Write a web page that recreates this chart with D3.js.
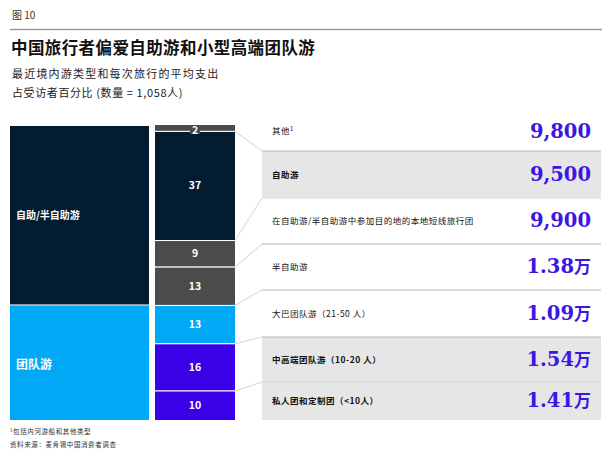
<!DOCTYPE html>
<html>
<head>
<meta charset="utf-8">
<script src="https://cdn.jsdelivr.net/npm/d3@7"></script>
<style>
  body { margin: 0; background: #fff; }
  text { font-family: "Noto Sans CJK SC", "Noto Sans", sans-serif; }
</style>
</head>
<body>
<svg id="chart"></svg>
<script>
// Данные: сегменты правого столбца (сверху вниз)
let segLabels = ["其他", "自助游", "在自助游/半自助游中参加目的地的本地短线旅行团", "半自助游",
                 "大巴团队游（21-50 人）", "中高端团队游（10-20 人）", "私人团和定制团（<10人）"];
let segShares = [2, 37, 9, 13, 13, 16, 10];
let segSpend = [9800, 9500, 9900, 13800, 10900, 15400, 14100];
let segBold = [false, true, false, false, false, true, true];

// Левый столбец
let groupLabels = ["自助/半自助游", "团队游"];
let groupShares = [61, 39];

let width = 616, height = 454;
let svg = d3.select("#chart").attr("width", width).attr("height", height);

let segColors = ["#4b4b4b", "#031c30", "#4b4b4b", "#4b4b4b", "#00a8f5", "#3a00e6", "#3a00e6"];
let groupColors = ["#031c30", "#00a8f5"];
let valueColor = "#3c16e4";

// шапка
svg.append("text").attr("x", 12).attr("y", 19).attr("font-size", 10).attr("fill", "#333").text("图 10");
svg.append("line").attr("x1", 10).attr("x2", 602).attr("y1", 29.5).attr("y2", 29.5)
    .attr("stroke", "#9a9a9a").attr("stroke-width", 1.5);
svg.append("text").attr("x", 11).attr("y", 54).attr("font-size", 16.5).attr("font-weight", "bold")
    .attr("letter-spacing", 0.4).attr("fill", "#111").text("中国旅行者偏爱自助游和小型高端团队游");
svg.append("text").attr("x", 12).attr("y", 78).attr("font-size", 11).attr("letter-spacing", 1.2)
    .attr("fill", "#222").text("最近境内游类型和每次旅行的平均支出");
svg.append("text").attr("x", 12).attr("y", 97).attr("font-size", 11).attr("letter-spacing", 0.6)
    .attr("fill", "#222").text("占受访者百分比 (数量 = 1,058人)");

// шкала по Y
let y = d3.scaleLinear().domain([0, 100]).range([125, 420]);

// левый столбец
let gCum = d3.cumsum(groupShares);
svg.selectAll(".grp").data(groupShares).enter().append("rect")
    .attr("x", 10).attr("width", 139)
    .attr("y", (d, i) => y(gCum[i] - d) + (i == 0 ? 1 : 0.5))
    .attr("height", (d, i) => y(gCum[i]) - y(gCum[i] - d) - (i == 0 ? 1.5 : 0.5))
    .attr("fill", (d, i) => groupColors[i]);
svg.selectAll(".grpLabel").data(groupLabels).enter().append("text")
    .attr("x", 16)
    .attr("y", (d, i) => y(gCum[i] - groupShares[i] / 2) + (i == 0 ? 4 : 7))
    .attr("font-size", (d, i) => i == 0 ? 10 : 12)
    .attr("font-weight", "bold").attr("fill", "#fff").text(d => d);

// правый столбец
let sCum = d3.cumsum(segShares);
let barX = 155, barW = 80;
svg.selectAll(".seg").data(segShares).enter().append("rect")
    .attr("x", barX).attr("width", barW)
    .attr("y", (d, i) => y(sCum[i] - d) + (i == 0 ? 0 : 0.5))
    .attr("height", (d, i) => y(sCum[i]) - y(sCum[i] - d) - (i == 0 ? 0 : 0.5))
    .attr("fill", (d, i) => segColors[i]);
// белые разделители
svg.selectAll(".sep").data(sCum.slice(0, -1)).enter().append("line")
    .attr("x1", barX).attr("x2", barX + barW)
    .attr("y1", d => y(d) + 0.5).attr("y2", d => y(d) + 0.5)
    .attr("stroke", "#fff").attr("stroke-width", 1);

// подписи процентов
segShares.forEach((d, i) => {
    let cy = y(sCum[i] - d / 2);
    if (i == 0) {
        svg.append("rect").attr("x", barX + barW / 2 - 5).attr("y", y(0)).attr("width", 10).attr("height", 9)
            .attr("fill", "#4b4b4b");
        cy = y(0) + 4.5;
    }
    svg.append("text").attr("x", barX + barW / 2).attr("y", cy + 4)
        .attr("text-anchor", "middle").attr("font-size", 10.5).attr("font-weight", "bold")
        .attr("font-family", "Liberation Sans, Arial, sans-serif")
        .attr("fill", "#fff").text(d);
});

// правая таблица
let rowEdges = [126, 151, 198, 244, 290, 337, 382, 420];
let tblX = 262, tblX2 = 601;
let rowBg = ["#fff", "#e6e6e6", "#fff", "#fff", "#fff", "#e6e6e6", "#e6e6e6"];
svg.selectAll(".row").data(segLabels).enter().append("rect")
    .attr("x", tblX).attr("width", tblX2 - tblX)
    .attr("y", (d, i) => rowEdges[i]).attr("height", (d, i) => rowEdges[i + 1] - rowEdges[i])
    .attr("fill", (d, i) => rowBg[i]);
let lineColors = ["#b5b5b5", "#dcdcdc", "#b5b5b5", "#b5b5b5", "#b5b5b5", "#d6d6d6"];
rowEdges.slice(1, -1).forEach((e, i) => {
    svg.append("line").attr("x1", tblX).attr("x2", tblX2).attr("y1", e).attr("y2", e)
        .attr("stroke", lineColors[i]).attr("stroke-width", 1);
    // соединительные линии
    svg.append("line").attr("x1", barX + barW).attr("y1", y(sCum[i]) + 0.5)
        .attr("x2", tblX).attr("y2", e)
        .attr("stroke", "#c8c8c8").attr("stroke-width", 0.8);
});

let fmt = v => v < 10000 ? d3.format(",")(v) : (v / 10000).toFixed(2);
segLabels.forEach((lab, i) => {
    let mid = (rowEdges[i] + rowEdges[i + 1]) / 2;
    if (i == 0) mid = 131;
    let t = svg.append("text").attr("x", 272).attr("y", mid + 3)
        .attr("font-size", 8.5).attr("letter-spacing", 0.5).attr("fill", "#111")
        .attr("font-weight", segBold[i] ? "bold" : "normal").text(lab);
    if (i == 0) t.append("tspan").attr("font-size", 6).attr("dy", -3).text("1");

    let v = svg.append("text").attr("x", 591).attr("y", mid + 6 + (i == 0 ? 1 : 0))
        .attr("text-anchor", "end").attr("fill", valueColor);
    v.append("tspan").attr("font-family", "DejaVu Serif, serif").attr("font-weight", "bold")
        .attr("font-size", 19.5).text(fmt(segSpend[i]));
    if (segSpend[i] >= 10000)
        v.append("tspan").attr("font-weight", "bold").attr("font-size", 17).text("万");
});

// сноски
let fn = svg.append("text").attr("x", 10).attr("y", 434).attr("font-size", 6.5)
    .attr("letter-spacing", 0.6).attr("fill", "#333");
fn.append("tspan").attr("font-size", 4.5).attr("dy", -2).text("1");
fn.append("tspan").attr("dy", 2).text("包括内河游船和其他类型");
svg.append("text").attr("x", 10).attr("y", 447).attr("font-size", 6.5).attr("letter-spacing", 0.6)
    .attr("fill", "#333").text("资料来源：麦肯锡中国消费者调查");
</script>
</body>
</html>
